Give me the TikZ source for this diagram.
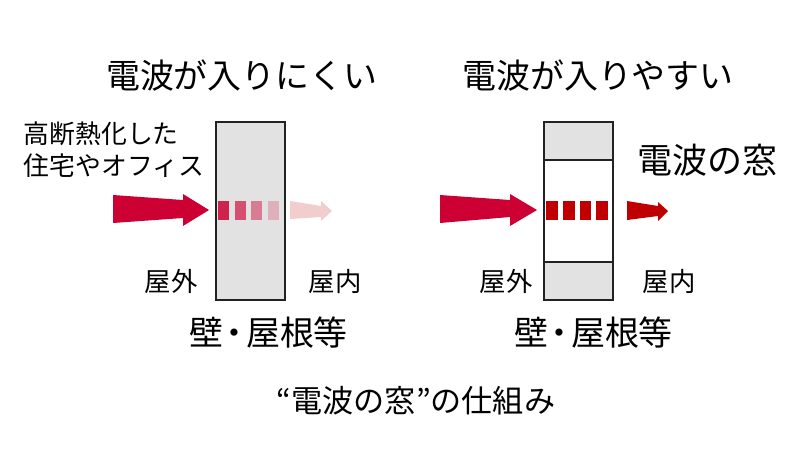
\documentclass[tikz,border=0pt]{standalone}
\usepackage{fontspec}
\setmainfont{Noto Sans CJK JP}
\definecolor{wall}{HTML}{E2E2E2}
\definecolor{wave}{HTML}{CC0033}
\definecolor{wavein}{HTML}{C00000}
\definecolor{wavepale}{HTML}{F2CDCD}
\definecolor{inkdark}{HTML}{222222}
\newcommand{\walltext}{壁\hspace{-.16em}・\hspace{-.16em}屋根等}
\tikzset{
	wallbox/.style={draw=inkdark,line width=.6pt},
	big/.style={font=\fontsize{9.65}{11}\selectfont,inner sep=0pt},
	small/.style={font=\fontsize{7.35}{9}\selectfont,inner sep=0pt},
	side/.style={font=\fontsize{7.5}{9}\selectfont,inner sep=0pt},
}
\begin{document}
\begin{tikzpicture}[x=.01cm,y=-.01cm]
	\useasboundingbox (0,0) rectangle (800,451);
	\fill[white](0,0) rectangle (800,451);

	\node[big] (titleL) at (241.5,76) {電波が入りにくい};
	\node[big] (titleR) at (598,76) {電波が入りやすい};
	\node[small,anchor=west] (homeA) at (23,134) {高断熱化した};
	\node[small,anchor=west] (homeB) at (23,166) {住宅やオフィス};
	\node[big,font=\fontsize{9.95}{11}\selectfont] (window) at (707.5,160) {電波の窓};

	\filldraw[wallbox,fill=wall](216,122) rectangle (285,300);
	\filldraw[wallbox,fill=wall](544,122) rectangle (613,300);
	\filldraw[wallbox,fill=white](544,160) rectangle (613,262);

	\fill[wave](113,195)--(183,200)--(183,194)--(209,210)--(183,226)--(183,218)--(113,223);
	\fill[wave](440,195)--(510,200)--(510,194)--(537,210)--(510,226)--(510,217)--(440,223);
	\fill[wavepale](290,201)--(321,206)--(321,201)--(332,211)--(321,221)--(321,217)--(290,219);
	\fill[wavein](627,201)--(658,206)--(658,202)--(668,211)--(658,221)--(658,216)--(627,220);

	\fill[wave!85!wall](218,201) rectangle (229,220);
	\fill[wave!65!wall](235,201) rectangle (246,220);
	\fill[wave!45!wall](251,201) rectangle (262,220);
	\fill[wave!22!wall](268,201) rectangle (279,220);

	\foreach \xa/\xb in {546/558,563/575,580/591,596/608}
		\fill[wavein](\xa,201) rectangle (\xb,220);

	\node[side] (outL) at (171,281.5) {屋外};
	\node[side] (inL) at (335,281.5) {屋内};
	\node[side] (outR) at (506,281.5) {屋外};
	\node[side] (inR) at (669,281.5) {屋内};
	\node[big] (wallL) at (268.5,333) {\walltext};
	\node[big] (wallR) at (593.5,333) {\walltext};
	\node[font=\fontsize{8.85}{10}\selectfont,inner sep=0pt] (caption) at (416,401) {“電波の窓”の仕組み};
\end{tikzpicture}
\end{document}
